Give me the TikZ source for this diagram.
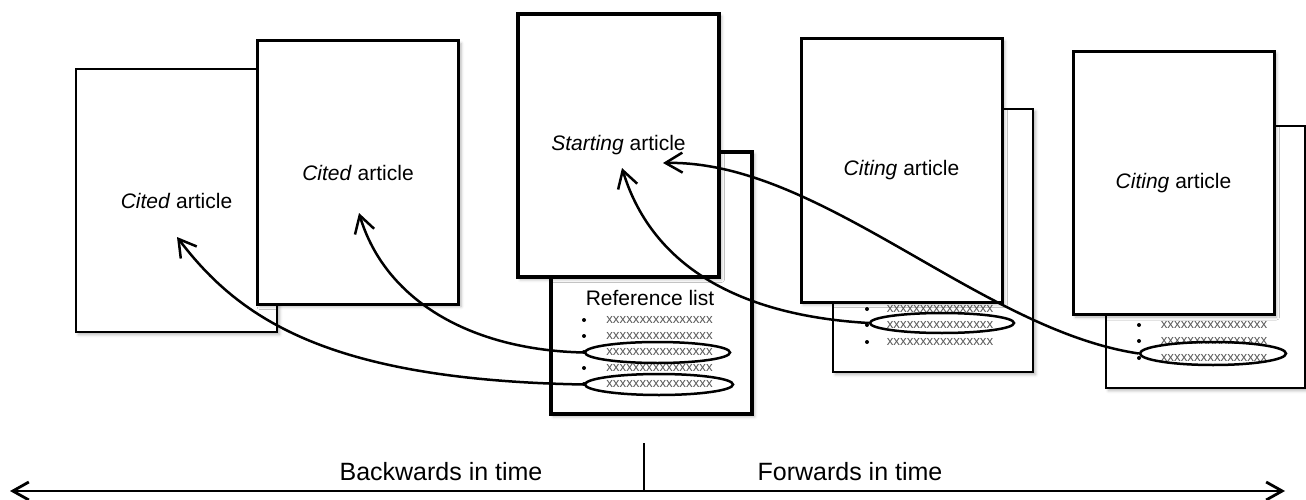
\documentclass[tikz,border=0pt]{standalone}
\usepackage{fontspec}
\setmainfont{Liberation Sans}
\usetikzlibrary{arrows.meta,shapes.geometric,shadows.blur}
\begin{document}
\begin{tikzpicture}[x=1pt,y=-1pt,
  shadowed/.style={blur shadow={shadow xshift=2.5pt,shadow yshift=-2.5pt,shadow blur radius=3pt,shadow opacity=30}},
  page/.style={draw=black,fill=white,line width=3pt,minimum width=201pt,minimum height=263pt,inner sep=0pt,outer sep=0pt,shadowed,font=\fontsize{21}{25}\selectfont},
  backpage/.style={page,line width=2pt},
  xx/.style={font=\fontsize{13.3}{15}\selectfont,text=black!65,inner sep=0pt},
  bul/.style={circle,fill=black,inner sep=0pt,minimum size=4pt},
  hl/.style={ellipse,draw=black,line width=2.5pt,inner sep=0pt,minimum height=21pt},
  link/.style={line width=2.5pt,-{Straight Barb[length=17pt,width=20pt]}},
  timeline/.style={line width=2.8pt,{Straight Barb[length=16pt,width=18pt]}-{Straight Barb[length=16pt,width=18pt]}},
  tlabel/.style={font=\fontsize{25}{30}\selectfont,inner sep=0pt,anchor=base}
]
\useasboundingbox (0,0) rectangle (1306,500);

% cited articles
\node[page,line width=2.5pt] (cited1) at (176.5,200.5) {\textit{Cited} article};
\node[page] (cited2) at (358,172.5) {\textit{Cited} article};

% starting article with its reference list
\node[page,line width=3.5pt,minimum height=262pt] (ref) at (651.5,283) {};
\node[font=\fontsize{21}{25}\selectfont,inner sep=0pt] (reftitle) at (650,298) {Reference list};
\foreach \i/\y in {1/320,2/336,3/352,4/368,5/384}{
  \node[bul] (rb\i) at (584,\y) {};
  \node[xx] (rx\i) at (659.5,\y) {xxxxxxxxxxxxxxxx};
}
\node[page,line width=3.5pt] (start) at (618.5,145.5) {\textit{Starting} article};

% first citing article
\node[backpage,minimum width=200pt] (cback1) at (933,240.5) {};
\foreach \i/\y in {1/309,2/325,3/342}{
  \node[bul] (cb\i) at (867,\y) {};
  \node[xx] (cx\i) at (940,\y) {xxxxxxxxxxxxxxxx};
}
\node[page] (citing1) at (901.5,170.5) {\textit{Citing} article};

% second citing article
\node[backpage,minimum width=199pt,minimum height=262pt] (cback2) at (1205.5,257) {};
\foreach \i/\y in {1/325,2/341,3/358}{
  \node[bul] (db\i) at (1139,\y) {};
  \node[xx] (dx\i) at (1214,\y) {xxxxxxxxxxxxxxxx};
}
\node[page] (citing2) at (1173.5,183) {\textit{Citing} article};

% highlighted references
\node[hl,minimum width=145pt] (e3) at (657.5,352.5) {};
\node[hl,minimum width=148pt] (e5) at (659,384.5) {};
\node[hl,minimum width=144pt,minimum height=20pt] (ec1) at (942,323) {};
\node[hl,minimum width=146pt,minimum height=23pt] (ec2) at (1213,353.5) {};

% arrow targets
\coordinate (tA) at (177,237);
\coordinate (tB) at (359,213);
\coordinate (tC) at (622,168);
\coordinate (tD) at (663,163);

% citation links
\draw[link] (e5.west) .. controls (330,380) and (240,320) .. (tA);
\draw[link] (e3.west) .. controls (470,350) and (385,300) .. (tB);
\draw[link] (ec1.west) .. controls (730,315) and (650,260) .. (tC);
\draw[link] (ec2.west) .. controls (980,330) and (820,160) .. (tD);

% time line
\coordinate (tl) at (10,491);
\coordinate (tr) at (1285,491);
\coordinate (mtop) at (644,443);
\coordinate (mbot) at (644,491);
\draw[timeline] (tl) -- (tr);
\draw[line width=1.5pt] (mtop) -- (mbot);
\node[tlabel] (back) at (441,480) {Backwards in time};
\node[tlabel] (fwd) at (850,480) {Forwards in time};
\end{tikzpicture}
\end{document}
